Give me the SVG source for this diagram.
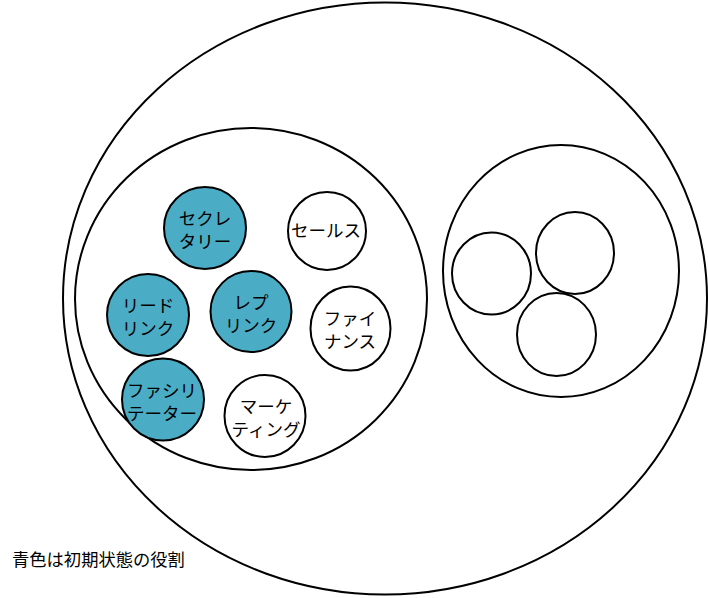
<svg xmlns="http://www.w3.org/2000/svg" width="708" height="598" viewBox="0 0 708 598">
<style>
.c{fill:#fff;stroke:#000;stroke-width:2}
.b{fill:#4BACC6;stroke:#000;stroke-width:2}
.t{font-family:"Noto Sans CJK JP","Noto Sans CJK SC",sans-serif;font-size:17.5px;fill:#000;text-anchor:middle}
.l{font-family:"Noto Sans CJK JP","Noto Sans CJK SC",sans-serif;font-size:17.3px;fill:#000}
</style>
<rect width="708" height="598" fill="#fff"/>
<g id="outer"><ellipse class="c" cx="385" cy="298.5" rx="322" ry="296"/></g>
<g id="group-left"><ellipse class="c" cx="251" cy="299" rx="176" ry="171"/></g>
<g id="group-right"><ellipse class="c" cx="561" cy="271" rx="118" ry="126"/></g>
<g id="empty1"><ellipse class="c" cx="491.5" cy="273.5" rx="39.5" ry="41"/></g>
<g id="empty2"><ellipse class="c" cx="575" cy="253" rx="39" ry="41"/></g>
<g id="empty3"><ellipse class="c" cx="556.5" cy="334.5" rx="39.5" ry="41.5"/></g>
<g id="secretary"><circle class="b" cx="205" cy="228" r="41"/><text class="t" x="205" y="225">セクレ</text><text class="t" x="205" y="248">タリー</text></g>
<g id="leadlink"><circle class="b" cx="148" cy="315" r="41"/><text class="t" x="148" y="312">リード</text><text class="t" x="148" y="335">リンク</text></g>
<g id="replink"><circle class="b" cx="251" cy="311.5" r="40.5"/><text class="t" x="251" y="309">レプ</text><text class="t" x="251" y="332">リンク</text></g>
<g id="facilitator"><circle class="b" cx="163" cy="399.5" r="41"/><text class="t" x="162" y="397">ファシリ</text><text class="t" x="162" y="420">テーター</text></g>
<g id="sales"><circle class="c" cx="327" cy="231" r="39"/><text class="t" x="326" y="237">セールス</text></g>
<g id="finance"><ellipse class="c" cx="350.5" cy="328.5" rx="40" ry="42"/><text class="t" x="350" y="325">ファイ</text><text class="t" x="350" y="348">ナンス</text></g>
<g id="marketing"><ellipse class="c" cx="265" cy="416" rx="40.5" ry="41"/><text class="t" x="266" y="413">マーケ</text><text class="t" x="266" y="436">ティング</text></g>
<g id="connectors"></g>
<text class="l" x="12" y="566">青色は初期状態の役割</text>
</svg>
